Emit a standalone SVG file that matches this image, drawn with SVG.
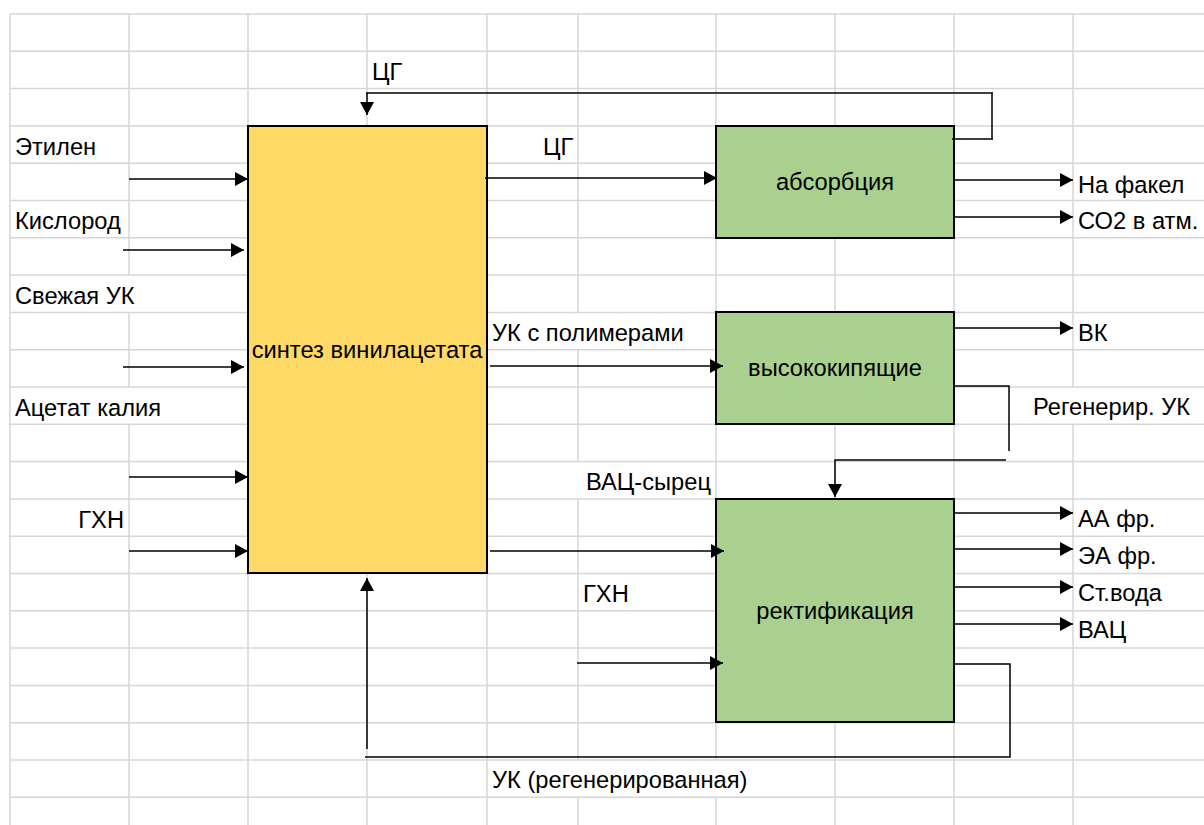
<svg xmlns="http://www.w3.org/2000/svg" width="1204" height="825" viewBox="0 0 1204 825">
<style>
  .grid { stroke: #d6d6d6; stroke-width: 1.5; fill: none; }
  .box { stroke: #000; stroke-width: 2; }
  .yellow { fill: #FFD966; }
  .green { fill: #A9D08E; }
  .conn { stroke: #000; stroke-width: 1.5; fill: none; }
  .arr { marker-end: url(#ah); }
  text { font-family: "Liberation Sans", Arial, sans-serif; font-size: 23.7px; fill: #000; }
  .mid { text-anchor: middle; }
  .end { text-anchor: end; }
</style>
<defs>
  <marker id="ah" markerUnits="userSpaceOnUse" markerWidth="14" markerHeight="14" refX="13" refY="7" orient="auto" viewBox="0 0 14 14">
    <path d="M0,0 L13,7 L0,14 Z" fill="#000"/>
  </marker>
</defs>
<rect x="0" y="0" width="1204" height="825" fill="#fff"/>
<g id="grid" class="grid">
  <path d="M10,14H1204 M10,51.3H1204 M10,88.6H1204 M10,125.9H1204 M10,163.2H1204 M10,200.5H1204 M10,237.8H1204 M10,275.1H1204 M10,312.4H1204 M10,349.7H1204 M10,387H1204 M10,424.3H1204 M10,461.6H1204 M10,498.9H1204 M10,536.2H1204 M10,573.5H1204 M10,610.8H1204 M10,648.1H1204 M10,685.4H1204 M10,722.7H1204 M10,760H1204 M10,797.3H1204"/>
  <path d="M10,14V825 M129,14V275.1 M129,312.4V387 M129,424.3V825 M248,14V825 M367,14V825 M487,14V825 M578,14V312.4 M578,349.7V461.6 M578,498.9V760 M578,797.3V825 M716,14V760 M716,797.3V825 M835,14V825 M954,14V825 M1073,14V387 M1073,424.3V825"/>
</g>
<g id="node-sintez">
  <rect class="box yellow" x="248" y="126" width="239" height="447"/>
  <text class="mid" x="367" y="358">синтез винилацетата</text>
</g>
<g id="node-absorbciya">
  <rect class="box green" x="716" y="126" width="238" height="112"/>
  <text class="mid" x="835" y="190">абсорбция</text>
</g>
<g id="node-vysokokipyashchie">
  <rect class="box green" x="716" y="312" width="238" height="112"/>
  <text class="mid" x="835" y="376">высококипящие</text>
</g>
<g id="node-rektifikaciya">
  <rect class="box green" x="716" y="499" width="238" height="223"/>
  <text class="mid" x="835" y="619">ректификация</text>
</g>
<g id="connectors">
  <path class="conn" d="M952,139H993 M992,139V93 M993,93H366"/>
  <path class="conn arr" d="M367,93V115"/>
  <path class="conn arr" d="M129,179H248"/>
  <path class="conn arr" d="M123,250H244"/>
  <path class="conn arr" d="M123,367H244"/>
  <path class="conn arr" d="M129,477H248"/>
  <path class="conn arr" d="M129,551H248"/>
  <path class="conn arr" d="M485,178H717"/>
  <path class="conn arr" d="M490,366H723"/>
  <path class="conn arr" d="M490,551H724"/>
  <path class="conn arr" d="M577,663H723"/>
  <path class="conn" d="M954,664H1010V757H365"/>
  <path class="conn arr" d="M367,749V578"/>
  <path class="conn" d="M954,386H1009V451"/>
  <path class="conn arr" d="M1006,460H835V497"/>
  <path class="conn arr" d="M954,180H1073"/>
  <path class="conn arr" d="M954,217H1073"/>
  <path class="conn arr" d="M954,328H1073"/>
  <path class="conn arr" d="M954,513H1073"/>
  <path class="conn arr" d="M954,549H1073"/>
  <path class="conn arr" d="M954,587H1073"/>
  <path class="conn arr" d="M954,624H1073"/>
</g>
<g id="labels">
  <text x="372" y="80">ЦГ</text>
  <text x="15" y="155">Этилен</text>
  <text x="15" y="229">Кислород</text>
  <text x="15" y="304">Свежая УК</text>
  <text x="15" y="416">Ацетат калия</text>
  <text class="end" x="124" y="528">ГХН</text>
  <text x="543" y="155">ЦГ</text>
  <text x="1078" y="193">На факел</text>
  <text x="1078" y="229">СО2 в атм.</text>
  <text x="492" y="341">УК с полимерами</text>
  <text x="1078" y="341">ВК</text>
  <text x="1033" y="415">Регенерир. УК</text>
  <text class="end" x="711" y="490">ВАЦ-сырец</text>
  <text x="1078" y="527">АА фр.</text>
  <text x="1078" y="564">ЭА фр.</text>
  <text x="1078" y="601">Ст.вода</text>
  <text x="583" y="602">ГХН</text>
  <text x="1078" y="638">ВАЦ</text>
  <text x="492" y="788">УК (регенерированная)</text>
</g>
</svg>
